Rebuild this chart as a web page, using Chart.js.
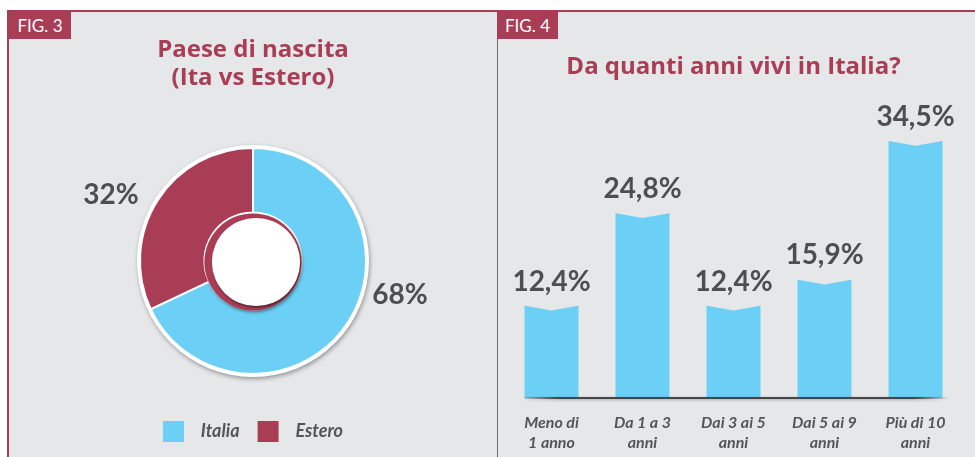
<!DOCTYPE html>
<html>
<head>
<meta charset="utf-8">
<script src="https://cdn.jsdelivr.net/npm/chart.js@4/dist/chart.umd.min.js"></script>
<style>
  body { margin: 0; background: #fff; width: 975px; height: 457px; overflow: hidden; position: relative; font-family: Lato, sans-serif; }
  #frame { position: absolute; left: 7px; top: 10px; width: 966px; height: 447px; background: #e6e7e9;
           border-left: 2px solid #a83d55; border-top: 2px solid #a83d55; }
  .fig { position: absolute; top: 12px; height: 27px; background: #a83d55; color: #fff;
         font: 17px Lato, sans-serif; line-height: 27px; text-align: center; }
  #divider { position: absolute; left: 497px; top: 39px; width: 1px; height: 418px; background: #6d6d6f; }
  canvas { position: absolute; top: 13px; }
</style>
</head>
<body>
<div id="frame"></div>
<div id="divider"></div>
<div class="fig" style="left:9px;width:62px">FIG. 3</div>
<div class="fig" style="left:497px;width:61px">FIG. 4</div>
<canvas id="pie" width="486" height="444" style="left:10px"></canvas>
<canvas id="bars" width="477" height="460" style="left:498px"></canvas>
<script>
/* === Data === */
const pieLabels = ['Italia', 'Estero'];
const pieValues = [68, 32];

const barLabels = [['Meno di', '1 anno'], ['Da 1 a 3', 'anni'], ['Dai 3 ai 5', 'anni'], ['Dai 5 ai 9', 'anni'], ['Più di 10', 'anni']];
const barValues = [12.4, 24.8, 12.4, 15.9, 34.5];

/* === Style === */
const MAROON = '#a83d55';
const BLUE   = '#6bcff6';
const BG     = '#e6e7e9';
const TEXT   = '#4e4e50';
const TITLE_FONT = { family: '"Open Sans"', size: 24, weight: 'bold' };

const fmt = v => (Number.isInteger(v) ? v : v.toFixed(1).replace('.', ',')) + '%';

/* === Doughnut decorations === */
const ringDeco = {
  id: 'ringDeco',
  beforeDatasetsDraw(chart) {
    const arc = chart.getDatasetMeta(0).data[0];
    const c = chart.ctx;
    c.save();
    c.shadowColor = 'rgba(0,0,0,0.35)';
    c.shadowBlur = 4;
    c.shadowOffsetX = 1;
    c.shadowOffsetY = 2;
    c.fillStyle = '#fff';
    c.beginPath();
    c.arc(arc.x, arc.y, arc.outerRadius + 3, 0, Math.PI * 2);
    c.fill();
    c.restore();
  },
  afterDatasetsDraw(chart, args, opts) {
    const meta = chart.getDatasetMeta(0);
    const c = chart.ctx;
    const a0 = meta.data[0];
    const cx = a0.x, cy = a0.y, ri = a0.innerRadius, ro = a0.outerRadius;

    // centre hole
    c.save();
    c.shadowColor = 'rgba(0,0,0,0.35)';
    c.shadowBlur = 3;
    c.shadowOffsetX = 1;
    c.shadowOffsetY = 2;
    c.fillStyle = MAROON;
    c.beginPath();
    c.arc(cx, cy + 1, ri, 0, Math.PI * 2);
    c.fill();
    c.shadowColor = 'rgba(0,0,0,0.4)';
    c.shadowBlur = 2;
    c.fillStyle = '#fff';
    c.beginPath();
    c.arc(cx + 3, cy + 1, ri - 4.5, 0, Math.PI * 2);
    c.fill();
    c.restore();

    // percentage labels
    c.save();
    c.font = 'bold 28px Lato, sans-serif';
    c.fillStyle = TEXT;
    c.textBaseline = 'middle';
    meta.data.forEach((el, i) => {
      const deg = opts.angles[i] * Math.PI / 180;
      const r = ro + opts.gaps[i];
      const x = cx + r * Math.sin(deg);
      const y = cy - r * Math.cos(deg);
      c.textAlign = x < cx ? 'right' : 'left';
      c.fillText(fmt(pieValues[i]), x, y);
    });
    c.restore();
  }
};

new Chart(document.getElementById('pie'), {
  type: 'doughnut',
  data: {
    labels: pieLabels,
    datasets: [{
      data: pieValues,
      backgroundColor: [BLUE, MAROON],
      borderColor: '#fff',
      borderWidth: 2,
      radius: 113
    }]
  },
  options: {
    responsive: false,
    animation: false,
    cutout: '43%',
    layout: { padding: { bottom: 5 } },
    plugins: {
      tooltip: { enabled: false },
      title: {
        display: true,
        text: ['Paese di nascita', '(Ita vs Estero)'],
        color: MAROON,
        font: { ...TITLE_FONT, lineHeight: 28 / 24 },
        padding: { top: 23, bottom: 27 }
      },
      legend: {
        position: 'bottom',
        labels: {
          boxWidth: 21,
          boxHeight: 21,
          padding: 18,
          color: '#555557',
          font: { family: 'Lato', size: 18, style: 'italic', weight: 'bold' },
          generateLabels: chart => pieLabels.map((l, i) => ({
            text: '  ' + l,
            fillStyle: [BLUE, MAROON][i],
            strokeStyle: [BLUE, MAROON][i],
            lineWidth: 0,
            fontColor: '#555557',
            index: i
          }))
        }
      },
      ringDeco: { angles: [106, 300], gaps: [11, 19] }
    }
  },
  plugins: [ringDeco]
});

/* === Bar decorations === */
const barDeco = {
  id: 'barDeco',
  afterDatasetsDraw(chart) {
    const meta = chart.getDatasetMeta(0);
    const c = chart.ctx;
    const first = meta.data[0], last = meta.data[meta.data.length - 1];
    const base = first.base;

    // notch on bar tops
    c.save();
    c.fillStyle = BG;
    meta.data.forEach(el => {
      const h = el.width / 2;
      c.beginPath();
      c.moveTo(el.x - h - 1, el.y - 1);
      c.lineTo(el.x + h + 1, el.y - 1);
      c.lineTo(el.x + h + 1, el.y);
      c.lineTo(el.x, el.y + 5);
      c.lineTo(el.x - h - 1, el.y);
      c.closePath();
      c.fill();
    });
    c.restore();

    // base line
    const x0 = first.x - first.width / 2, x1 = last.x + last.width / 2 + 6;
    const g = c.createLinearGradient(x0, 0, x1, 0);
    g.addColorStop(0, 'rgba(70,70,72,0.2)');
    g.addColorStop(0.08, 'rgba(70,70,72,1)');
    g.addColorStop(0.92, 'rgba(70,70,72,1)');
    g.addColorStop(1, 'rgba(70,70,72,0)');
    c.save();
    c.shadowColor = 'rgba(0,0,0,0.3)';
    c.shadowBlur = 3;
    c.shadowOffsetY = 1;
    c.strokeStyle = g;
    c.lineWidth = 2;
    c.beginPath();
    c.moveTo(x0, base);
    c.lineTo(x1, base);
    c.stroke();
    c.restore();

    // value labels
    c.save();
    c.font = 'bold 28px Lato, sans-serif';
    c.fillStyle = TEXT;
    c.textAlign = 'center';
    c.textBaseline = 'alphabetic';
    meta.data.forEach((el, i) => c.fillText(fmt(barValues[i]), el.x, el.y - 15));
    c.restore();
  }
};

new Chart(document.getElementById('bars'), {
  type: 'bar',
  data: {
    labels: barLabels,
    datasets: [{
      data: barValues,
      backgroundColor: BLUE,
      borderWidth: 0,
      categoryPercentage: 1,
      barPercentage: 0.593
    }]
  },
  options: {
    responsive: false,
    animation: false,
    layout: { padding: { left: 8, right: 14, bottom: 5 } },
    scales: {
      x: {
        grid: { display: false, drawTicks: false },
        border: { display: false },
        ticks: {
          padding: 15,
          color: '#555557',
          maxRotation: 0,
          font: { family: 'Lato', size: 16, style: 'italic', weight: 'bold', lineHeight: 20 / 16 }
        }
      },
      y: { display: false, min: 0, max: 40 }
    },
    plugins: {
      tooltip: { enabled: false },
      legend: { display: false },
      title: {
        display: true,
        text: 'Da quanti anni vivi in Italia?',
        color: MAROON,
        font: { ...TITLE_FONT, lineHeight: 1.2 },
        padding: { top: 40, bottom: 18 }
      }
    }
  },
  plugins: [barDeco]
});
</script>
</body>
</html>
